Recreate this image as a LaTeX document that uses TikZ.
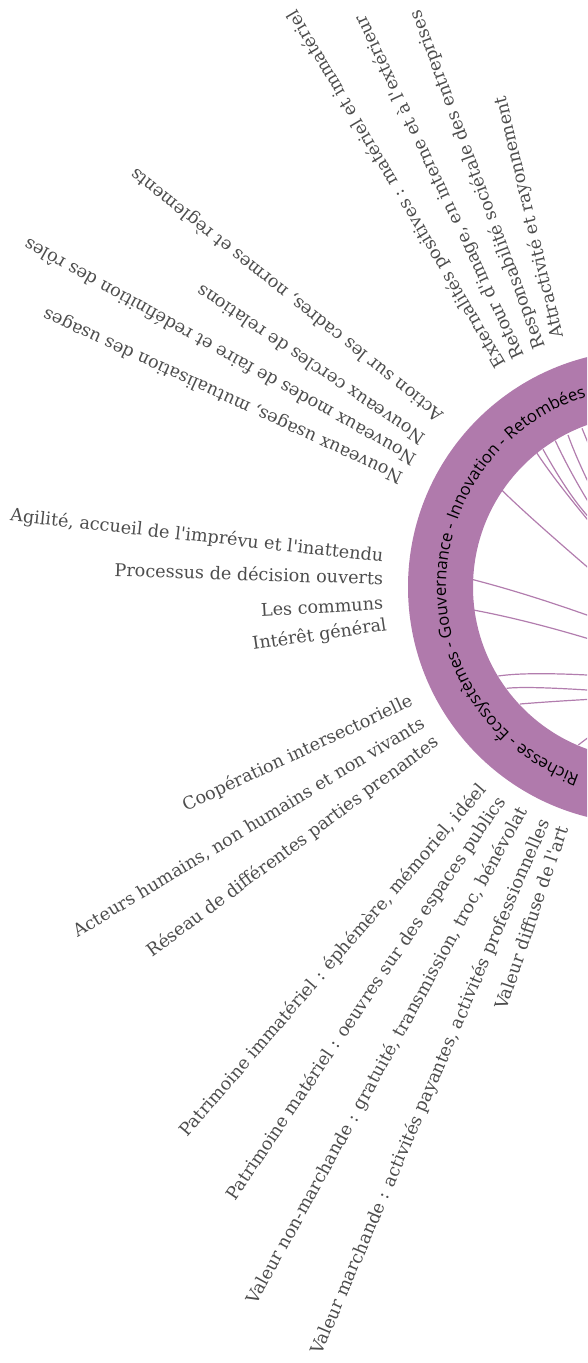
\documentclass[tikz,border=0pt]{standalone}
\usepackage{fontspec}
\defaultfontfeatures{}
\newfontfamily\labfont{DejaVu Serif}
\newfontfamily\ringfont{Open Sans}
\usetikzlibrary{decorations.text,calc}
\definecolor{ringc}{HTML}{B07AAC}
\definecolor{chordc}{HTML}{B27DAE}
\definecolor{labc}{HTML}{4D4D4D}
\begin{document}
\begin{tikzpicture}[x=1pt,y=1pt,
  lab/.style={font=\labfont\fontsize{17.6}{17.6}\selectfont, text=labc, inner sep=0pt, text height=10.9pt, text depth=0pt},
  outl/.style={lab, anchor=west},
  inl/.style={lab, anchor=east},
  chord/.style={draw=chordc, line width=1.2pt}]
\useasboundingbox (0,0) rectangle (587,-1363);
\clip (0,0) rectangle (587,-1363);
\coordinate (C) at (645,-587);
% chords
\foreach \n/\ax/\ay/\qx/\qy/\ex/\ey in {
  1/537/453.3/557/483.4/595/528.5,
  2/543/449.3/572.2/501.9/595/523.6,
  3/555.3/440.7/570.4/473.4/595/512.8,
  4/568/435/576.8/459.5/595/496,
  5/582/428.3/586/438/595/460,
  6/501.7/490/525.7/514/595/573.6,
  7/471.7/579.3/528/593.8/595/617.9,
  8/473.3/610/527/620/595/640.7,
  9/498.3/676/526.8/671.7/595/675.4,
  10/506.7/688.3/527/686/595/690.5,
  11/520/704/550/701.5/595/699,
  12/578.3/745/586/739/595/732.5}{
  \coordinate (a\n) at (\ax,-\ay);
  \coordinate (q\n) at (\qx,-\qy);
  \coordinate (e\n) at (\ex,-\ey);
  \draw[chord] (a\n) .. controls ($(a\n)!2/3!(q\n)$) and ($(e\n)!2/3!(q\n)$) .. (e\n);
}
% ring
\fill[ringc, even odd rule] (C) circle[radius=237pt] (C) circle[radius=172pt];
\path[decorate, decoration={text along path, text align=center,
  text={|\ringfont\fontsize{16.7}{16.7}\selectfont|Richesse - Écosystèmes - Gouvernance - Innovation - Retombées}}]
  ($(C)+(268:199pt)$) arc[start angle=268, end angle=90, radius=199pt];
% group Retombees
\node[outl, rotate=120.6] (gA) at (501.7,-366.7) {Externalités positives : matériel et immatériel};
\node[outl, rotate=115.0] (gB) at (520,-358.3) {Retour d'image, en interne et à l'extérieur};
\node[outl, rotate=110.3] (gC) at (540,-348.3) {Responsabilité sociétale des entreprises};
\node[outl, rotate=103.5] (gD) at (558.3,-338.3) {Attractivité et rayonnement};
% group Innovation
\node[outl, rotate=141.5] (hA) at (441.5,-417.5) {Action sur les cadres, normes et règlements};
\node[outl, rotate=146.0] (hB) at (423.3,-440) {Nouveaux cercles de relations};
\node[outl, rotate=150.8] (hC) at (415,-460) {Nouveaux modes de faire et redéfinition des rôles};
\node[outl, rotate=155.3] (hD) at (401.7,-478.3) {Nouveaux usages, mutualisation des usages};
% group Gouvernance
\node[inl, rotate=-6.3] (iA) at (383.3,-556.7) {Agilité, accueil de l'imprévu et l'inattendu};
\node[inl, rotate=-1.8] (iB) at (383.3,-579.3) {Processus de décision ouverts};
\node[inl, rotate=3.3] (iC) at (383.3,-604) {Les communs};
\node[inl, rotate=8.3] (iD) at (386.7,-625) {Intérêt général};
% group Ecosystemes
\node[inl, rotate=25] (jA) at (411.7,-700) {Coopération intersectorielle};
\node[inl, rotate=31.2] (jB) at (423.3,-722) {Acteurs humains, non humains et non vivants};
\node[inl, rotate=36.5] (jC) at (437,-740) {Réseau de différentes parties prenantes};
% group Richesse
\node[inl, rotate=49.2] (kA) at (483.3,-786.7) {Patrimoine immatériel : éphémère, mémoriel, idéel};
\node[inl, rotate=55.9] (kB) at (501.7,-798.3) {Patrimoine matériel : oeuvres sur des espaces publics};
\node[inl, rotate=61.2] (kC) at (523.3,-808.3) {Valeur non-marchande : gratuité, transmission, troc, bénévolat};
\node[inl, rotate=66.8] (kD) at (545,-820) {Valeur marchande : activités payantes, activités professionnelles};
\node[inl, rotate=71.2] (kE) at (563.3,-826.7) {Valeur diffuse de l'art};
\end{tikzpicture}
\end{document}
